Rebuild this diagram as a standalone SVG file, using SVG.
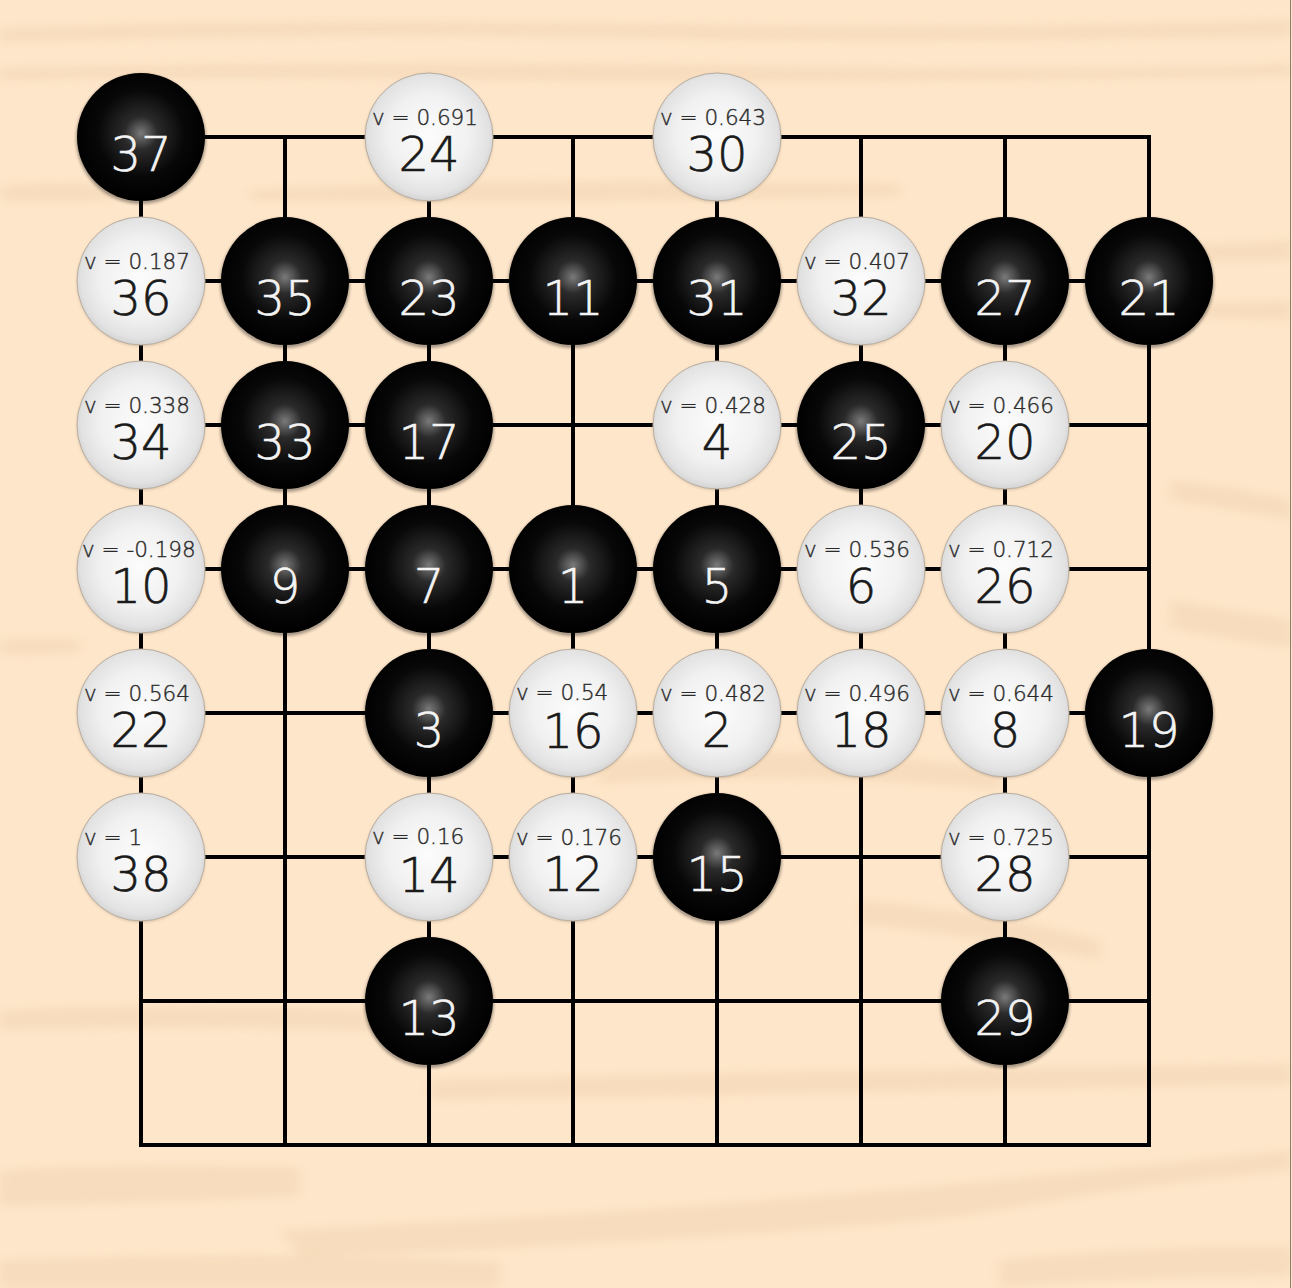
<svg xmlns="http://www.w3.org/2000/svg" width="1292" height="1288" viewBox="0 0 1292 1288">
<defs>
<radialGradient id="gb" cx="50%" cy="47%" r="52%">
<stop offset="0" stop-color="#7a7a7a"/>
<stop offset="0.25" stop-color="#2a2a2a"/>
<stop offset="0.65" stop-color="#080808"/>
<stop offset="1" stop-color="#000"/>
</radialGradient>
<radialGradient id="gw" cx="50%" cy="48%" r="52%">
<stop offset="0" stop-color="#fcfcfc"/>
<stop offset="0.6" stop-color="#f1f1f1"/>
<stop offset="0.9" stop-color="#e2e2e2"/>
<stop offset="1" stop-color="#d4d4d4"/>
</radialGradient>
<filter id="soft" x="-20%" y="-20%" width="140%" height="140%"><feGaussianBlur stdDeviation="1.6"/></filter>
<filter id="wood" x="-10%" y="-50%" width="120%" height="200%"><feGaussianBlur stdDeviation="6 4"/></filter>
<style>
.bs{fill:url(#gb)}
.ws{fill:url(#gw);stroke:#b9ada0;stroke-width:1}
.sh{fill:#000;opacity:0.35;filter:url(#soft)}
.shw{fill:#8a7560;opacity:0.35;filter:url(#soft)}
.nb{font-family:"DejaVu Sans",sans-serif;font-weight:200;font-size:48px;fill:#f4f4f4;stroke:#f4f4f4;stroke-width:0.6;text-anchor:middle}
.nw{font-family:"DejaVu Sans",sans-serif;font-weight:200;font-size:48px;fill:#1a1a1a;stroke:#1a1a1a;stroke-width:0.6;text-anchor:middle}
.v{font-family:"DejaVu Sans",sans-serif;font-weight:200;font-size:21.5px;fill:#2a2a2a;stroke:#2a2a2a;stroke-width:0.4}
.grid{stroke:#000;stroke-width:4;fill:none;stroke-linecap:square}
.streak{fill:#e9c9a2;opacity:0.32;filter:url(#wood)}
</style>
</defs>
<rect x="0" y="0" width="1292" height="1288" fill="#fee6ca"/>
<g id="woodgrain">
<path class="streak" d="M0 28 Q300 18 640 24 T1292 20 L1292 36 Q900 44 640 38 T0 42 Z"/>
<path class="streak" d="M0 68 Q400 60 760 66 T1292 64 L1292 76 Q800 84 500 80 T0 80 Z" opacity="0.22"/>
<path class="streak" d="M0 186 Q60 180 120 186 L120 198 Q60 204 0 200 Z"/>
<path class="streak" d="M250 190 Q500 176 900 184 L900 196 Q500 204 250 200 Z" opacity="0.18"/>
<path class="streak" d="M1180 246 L1292 240 L1292 260 L1180 262 Z"/>
<path class="streak" d="M1200 304 L1292 300 L1292 320 L1200 318 Z"/>
<path class="streak" d="M1170 480 Q1230 486 1292 500 L1292 520 Q1230 510 1170 500 Z"/>
<path class="streak" d="M1170 600 Q1230 610 1292 620 L1292 648 Q1230 640 1170 628 Z"/>
<path class="streak" d="M0 640 Q40 636 80 640 L80 652 Q40 656 0 654 Z"/>
<path class="streak" d="M600 760 Q800 740 1000 770 L1000 790 Q800 770 600 784 Z" opacity="0.22"/>
<path class="streak" d="M860 900 Q980 910 1100 940 L1100 960 Q980 936 860 924 Z"/>
<path class="streak" d="M0 1010 Q200 1000 400 1012 L400 1032 Q200 1024 0 1030 Z"/>
<path class="streak" d="M430 1080 Q800 1070 1292 1064 L1292 1084 Q800 1094 430 1100 Z" opacity="0.22"/>
<path class="streak" d="M0 1170 Q150 1162 300 1168 L300 1196 Q150 1204 0 1206 Z"/>
<path class="streak" d="M280 1230 Q700 1210 1000 1180 T1292 1150 L1292 1170 Q1100 1190 1000 1210 T300 1258 Z"/>
<path class="streak" d="M0 1260 Q300 1250 500 1262 L500 1288 L0 1288 Z" opacity="0.25"/>
<path class="streak" d="M1000 1260 Q1150 1246 1292 1246 L1292 1276 Q1150 1276 1000 1288 Z" opacity="0.25"/>
</g>
<line x1="1290.5" y1="0" x2="1290.5" y2="1288" stroke="#8c7c6c" stroke-width="1"/>
<g id="connectors" class="grid">
<path d="M141 137H1149V1145H141Z"/>
<path d="M141 281H1149M141 425H1149M141 569H1149M141 713H1149M141 857H1149M141 1001H1149"/>
<path d="M285 137V1145M429 137V1145M573 137V1145M717 137V1145M861 137V1145M1005 137V1145"/>
</g>
<g id="stones">
<g id="s37"><circle class="sh" cx="141" cy="139" r="65"/><circle class="bs" cx="141" cy="137" r="64"/><text class="nb" x="141" y="171">37</text></g>
<g id="s24"><circle class="shw" cx="429" cy="138" r="64"/><circle class="ws" cx="429" cy="137" r="64"/><text class="v" x="372" y="125">v = 0.691</text><text class="nw" x="429" y="171">24</text></g>
<g id="s30"><circle class="shw" cx="717" cy="138" r="64"/><circle class="ws" cx="717" cy="137" r="64"/><text class="v" x="660" y="125">v = 0.643</text><text class="nw" x="717" y="171">30</text></g>

<g id="s36"><circle class="shw" cx="141" cy="282" r="64"/><circle class="ws" cx="141" cy="281" r="64"/><text class="v" x="84" y="269">v = 0.187</text><text class="nw" x="141" y="315">36</text></g>
<g id="s35"><circle class="sh" cx="285" cy="283" r="65"/><circle class="bs" cx="285" cy="281" r="64"/><text class="nb" x="285" y="315">35</text></g>
<g id="s23"><circle class="sh" cx="429" cy="283" r="65"/><circle class="bs" cx="429" cy="281" r="64"/><text class="nb" x="429" y="315">23</text></g>
<g id="s11"><circle class="sh" cx="573" cy="283" r="65"/><circle class="bs" cx="573" cy="281" r="64"/><text class="nb" x="573" y="315">11</text></g>
<g id="s31"><circle class="sh" cx="717" cy="283" r="65"/><circle class="bs" cx="717" cy="281" r="64"/><text class="nb" x="717" y="315">31</text></g>
<g id="s32"><circle class="shw" cx="861" cy="282" r="64"/><circle class="ws" cx="861" cy="281" r="64"/><text class="v" x="804" y="269">v = 0.407</text><text class="nw" x="861" y="315">32</text></g>
<g id="s27"><circle class="sh" cx="1005" cy="283" r="65"/><circle class="bs" cx="1005" cy="281" r="64"/><text class="nb" x="1005" y="315">27</text></g>
<g id="s21"><circle class="sh" cx="1149" cy="283" r="65"/><circle class="bs" cx="1149" cy="281" r="64"/><text class="nb" x="1149" y="315">21</text></g>

<g id="s34"><circle class="shw" cx="141" cy="426" r="64"/><circle class="ws" cx="141" cy="425" r="64"/><text class="v" x="84" y="413">v = 0.338</text><text class="nw" x="141" y="459">34</text></g>
<g id="s33"><circle class="sh" cx="285" cy="427" r="65"/><circle class="bs" cx="285" cy="425" r="64"/><text class="nb" x="285" y="459">33</text></g>
<g id="s17"><circle class="sh" cx="429" cy="427" r="65"/><circle class="bs" cx="429" cy="425" r="64"/><text class="nb" x="429" y="459">17</text></g>
<g id="s4"><circle class="shw" cx="717" cy="426" r="64"/><circle class="ws" cx="717" cy="425" r="64"/><text class="v" x="660" y="413">v = 0.428</text><text class="nw" x="717" y="459">4</text></g>
<g id="s25"><circle class="sh" cx="861" cy="427" r="65"/><circle class="bs" cx="861" cy="425" r="64"/><text class="nb" x="861" y="459">25</text></g>
<g id="s20"><circle class="shw" cx="1005" cy="426" r="64"/><circle class="ws" cx="1005" cy="425" r="64"/><text class="v" x="948" y="413">v = 0.466</text><text class="nw" x="1005" y="459">20</text></g>

<g id="s10"><circle class="shw" cx="141" cy="570" r="64"/><circle class="ws" cx="141" cy="569" r="64"/><text class="v" x="82" y="557">v = -0.198</text><text class="nw" x="141" y="603">10</text></g>
<g id="s9"><circle class="sh" cx="285" cy="571" r="65"/><circle class="bs" cx="285" cy="569" r="64"/><text class="nb" x="285" y="603">9</text></g>
<g id="s7"><circle class="sh" cx="429" cy="571" r="65"/><circle class="bs" cx="429" cy="569" r="64"/><text class="nb" x="429" y="603">7</text></g>
<g id="s1"><circle class="sh" cx="573" cy="571" r="65"/><circle class="bs" cx="573" cy="569" r="64"/><text class="nb" x="573" y="603">1</text></g>
<g id="s5"><circle class="sh" cx="717" cy="571" r="65"/><circle class="bs" cx="717" cy="569" r="64"/><text class="nb" x="717" y="603">5</text></g>
<g id="s6"><circle class="shw" cx="861" cy="570" r="64"/><circle class="ws" cx="861" cy="569" r="64"/><text class="v" x="804" y="557">v = 0.536</text><text class="nw" x="861" y="603">6</text></g>
<g id="s26"><circle class="shw" cx="1005" cy="570" r="64"/><circle class="ws" cx="1005" cy="569" r="64"/><text class="v" x="948" y="557">v = 0.712</text><text class="nw" x="1005" y="603">26</text></g>

<g id="s22"><circle class="shw" cx="141" cy="714" r="64"/><circle class="ws" cx="141" cy="713" r="64"/><text class="v" x="84" y="701">v = 0.564</text><text class="nw" x="141" y="747">22</text></g>
<g id="s3"><circle class="sh" cx="429" cy="715" r="65"/><circle class="bs" cx="429" cy="713" r="64"/><text class="nb" x="429" y="747">3</text></g>
<g id="s16"><circle class="shw" cx="573" cy="714" r="64"/><circle class="ws" cx="573" cy="713" r="64"/><text class="v" x="516" y="700">v = 0.54</text><text class="nw" x="573" y="748">16</text></g>
<g id="s2"><circle class="shw" cx="717" cy="714" r="64"/><circle class="ws" cx="717" cy="713" r="64"/><text class="v" x="660" y="701">v = 0.482</text><text class="nw" x="717" y="747">2</text></g>
<g id="s18"><circle class="shw" cx="861" cy="714" r="64"/><circle class="ws" cx="861" cy="713" r="64"/><text class="v" x="804" y="701">v = 0.496</text><text class="nw" x="861" y="747">18</text></g>
<g id="s8"><circle class="shw" cx="1005" cy="714" r="64"/><circle class="ws" cx="1005" cy="713" r="64"/><text class="v" x="948" y="701">v = 0.644</text><text class="nw" x="1005" y="747">8</text></g>
<g id="s19"><circle class="sh" cx="1149" cy="715" r="65"/><circle class="bs" cx="1149" cy="713" r="64"/><text class="nb" x="1149" y="747">19</text></g>

<g id="s38"><circle class="shw" cx="141" cy="858" r="64"/><circle class="ws" cx="141" cy="857" r="64"/><text class="v" x="84" y="845">v = 1</text><text class="nw" x="141" y="891">38</text></g>
<g id="s14"><circle class="shw" cx="429" cy="858" r="64"/><circle class="ws" cx="429" cy="857" r="64"/><text class="v" x="372" y="844">v = 0.16</text><text class="nw" x="429" y="892">14</text></g>
<g id="s12"><circle class="shw" cx="573" cy="858" r="64"/><circle class="ws" cx="573" cy="857" r="64"/><text class="v" x="516" y="845">v = 0.176</text><text class="nw" x="573" y="891">12</text></g>
<g id="s15"><circle class="sh" cx="717" cy="859" r="65"/><circle class="bs" cx="717" cy="857" r="64"/><text class="nb" x="717" y="891">15</text></g>
<g id="s28"><circle class="shw" cx="1005" cy="858" r="64"/><circle class="ws" cx="1005" cy="857" r="64"/><text class="v" x="948" y="845">v = 0.725</text><text class="nw" x="1005" y="891">28</text></g>

<g id="s13"><circle class="sh" cx="429" cy="1003" r="65"/><circle class="bs" cx="429" cy="1001" r="64"/><text class="nb" x="429" y="1035">13</text></g>
<g id="s29"><circle class="sh" cx="1005" cy="1003" r="65"/><circle class="bs" cx="1005" cy="1001" r="64"/><text class="nb" x="1005" y="1035">29</text></g>
</g>
</svg>
